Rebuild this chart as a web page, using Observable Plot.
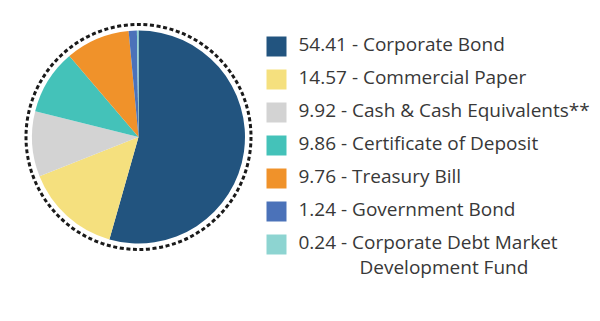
<!DOCTYPE html>
<html>
<head>
<meta charset="utf-8">
<script src="https://cdn.jsdelivr.net/npm/d3@7"></script>
<script src="https://cdn.jsdelivr.net/npm/@observablehq/plot@0.6"></script>
<style>
  html, body { margin: 0; padding: 0; background: #fff; }
  #chart svg { display: block; }
</style>
</head>
<body>
<div id="chart"></div>
<script>
const categories = [
  "Corporate Bond",
  "Commercial Paper",
  "Cash & Cash Equivalents**",
  "Certificate of Deposit",
  "Treasury Bill",
  "Government Bond",
  "Corporate Debt Market"
];
const continuation = ["", "", "", "", "", "", "Development Fund"];
const values = [54.41, 14.57, 9.92, 9.86, 9.76, 1.24, 0.24];
const valueLabels = ["54.41", "14.57", "9.92", "9.86", "9.76", "1.24", "0.24"];
const colors = ["#22547f", "#f5e07e", "#d3d3d3", "#44c2b9", "#f0922a", "#4b72b9", "#8dd4d1"];

const data = categories.map((c, i) => ({
  category: c,
  value: values[i],
  label: valueLabels[i] + " - " + c,
  cont: continuation[i]
}));

const pieCx = 138.5, pieCy = 137, pieR = 106.5, ringR = 112.5;

function pieMark(index, scales, channels, dimensions) {
  const g = d3.create("svg:g").attr("transform", `translate(${pieCx},${pieCy})`);
  const arcs = d3.pie().sort(null).value(d => d.value)(data);
  const arc = d3.arc().innerRadius(0).outerRadius(pieR);
  g.selectAll("path").data(arcs).join("path")
    .attr("d", arc)
    .attr("fill", d => scales.color(d.data.category));
  g.append("circle")
    .attr("r", ringR)
    .attr("fill", "none")
    .attr("stroke", "#1a1a1a")
    .attr("stroke-width", 3)
    .attr("stroke-dasharray", "4 2.6");
  return g.node();
}

const chart = Plot.plot({
  width: 600,
  height: 321,
  margin: 0,
  style: { fontFamily: "'Open Sans', sans-serif", background: "#fff" },
  y: { type: "band", domain: categories, range: [26, 264], axis: null },
  color: { domain: categories, range: colors },
  marks: [
    pieMark,
    Plot.dot(data, {
      y: "category",
      frameAnchor: "left",
      dx: 276,
      symbol: "square",
      r: 20 / Math.sqrt(Math.PI),
      fill: "category",
      stroke: null
    }),
    Plot.text(data, {
      y: "category",
      text: "label",
      frameAnchor: "left",
      textAnchor: "start",
      dx: 298,
      dy: -1.5,
      fontSize: 19,
      fontWeight: 400,
      fill: "#383838"
    }),
    Plot.text(data.filter(d => d.cont), {
      y: "category",
      text: "cont",
      frameAnchor: "left",
      textAnchor: "start",
      dx: 359,
      dy: 23,
      fontSize: 19,
      fontWeight: 400,
      fill: "#383838"
    })
  ]
});

document.getElementById("chart").appendChild(chart);
</script>
</body>
</html>
